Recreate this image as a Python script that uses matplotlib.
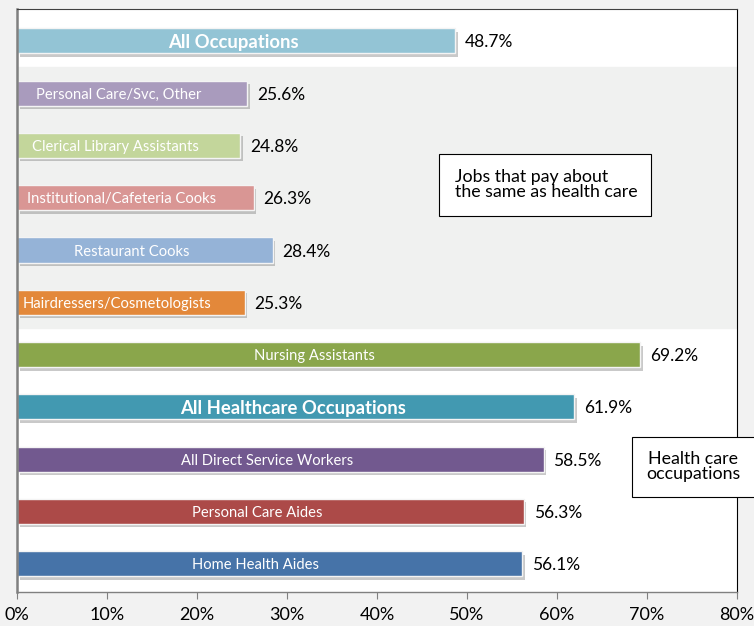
import matplotlib.pyplot as plt
import matplotlib.patheffects as pe
from matplotlib.patches import Rectangle

# categories, bottom to top
categorias = ["Home Health Aides", "Personal Care Aides", "All Direct Service Workers",
              "All Healthcare Occupations", "Nursing Assistants",
              "Hairdressers/Cosmetologists", "Restaurant Cooks",
              "Institutional/Cafeteria Cooks", "Clerical Library Assistants",
              "Personal Care/Svc, Other", "All Occupations"]
valores = [56.1, 56.3, 58.5, 61.9, 69.2, 25.3, 28.4, 26.3, 24.8, 25.6, 48.7]
colores = ["#4673A8", "#AC4A48", "#72598F", "#4299B1", "#8AA64B",
           "#E3883A", "#95B3D7", "#D99694", "#C3D69B", "#A99BBD", "#93C4D5"]
negrita = ["All Occupations", "All Healthcare Occupations"]
ticks = [0, 10, 20, 30, 40, 50, 60, 70, 80]

plt.rcParams['font.family'] = ['Lato', 'DejaVu Sans']

fig = plt.figure(figsize=(7.54, 6.26), dpi=100)
fig.patch.set_facecolor('#F2F2F2')
ax = fig.add_axes([17/754, 1 - 592/626, 720/754, 583/626])
ax.set_facecolor('white')

# franja gris para los trabajos de paga similar
ax.axhspan(4.5, 9.5, color='#F0F1F0', zorder=0)

pos = list(range(len(categorias)))
barras = ax.barh(pos, valores, height=0.48, color=colores, edgecolor='#F4F4F4',
                 linewidth=1.0, zorder=2)
for b in barras:
    b.set_path_effects([pe.SimplePatchShadow(offset=(2, -2.5), shadow_rgbFace='#666666', alpha=0.35),
                        pe.Normal()])

for i, (cat, v) in enumerate(zip(categorias, valores)):
    if cat in negrita:
        ax.text(v / 2 - 0.3, i - 0.03, cat, ha='center', va='center', color='white',
                fontsize=13.3, fontweight='bold', zorder=3)
    else:
        ax.text(v / 2 - 1.5, i - 0.03, cat, ha='center', va='center', color='white',
                fontsize=10.6, zorder=3)
    ax.text(v + 1.1, i - 0.03, f"{v:.1f}%", ha='left', va='center', color='black',
            fontsize=12.5, zorder=3)

ax.set_xlim(0, 80)
ax.set_ylim(-0.54, 10.61)
ax.set_xticks(ticks)
ax.set_xticklabels([f"{t}%" for t in ticks], fontsize=13)
ax.tick_params(axis='x', direction='out', length=5, color='#808080', pad=6)
ax.set_yticks([])

ax.spines['left'].set_color('#808080')
ax.spines['left'].set_linewidth(1.8)
ax.spines['bottom'].set_color('#808080')
ax.spines['bottom'].set_linewidth(1.0)
ax.spines['top'].set_color('#404040')
ax.spines['top'].set_linewidth(0.8)
ax.spines['right'].set_color('black')
ax.spines['right'].set_linewidth(0.8)

# cuadros de texto
ax.add_patch(Rectangle((46.9, 6.65), 23.5, 1.19, facecolor='white', edgecolor='black',
                       linewidth=0.8, zorder=4))
ax.text(48.7, 7.25, "Jobs that pay about\nthe same as health care", ha='left', va='center',
        fontsize=12.8, linespacing=0.95, zorder=5)

ax.add_patch(Rectangle((68.3, 1.28), 15, 1.15, facecolor='white', edgecolor='black',
                       linewidth=0.8, zorder=4, clip_on=False))
ax.text(75.1, 1.855, "Health care\noccupations", ha='center', va='center',
        fontsize=12.8, linespacing=0.95, zorder=5, clip_on=False)

fig.savefig("out.png", dpi=100, facecolor=fig.get_facecolor())
